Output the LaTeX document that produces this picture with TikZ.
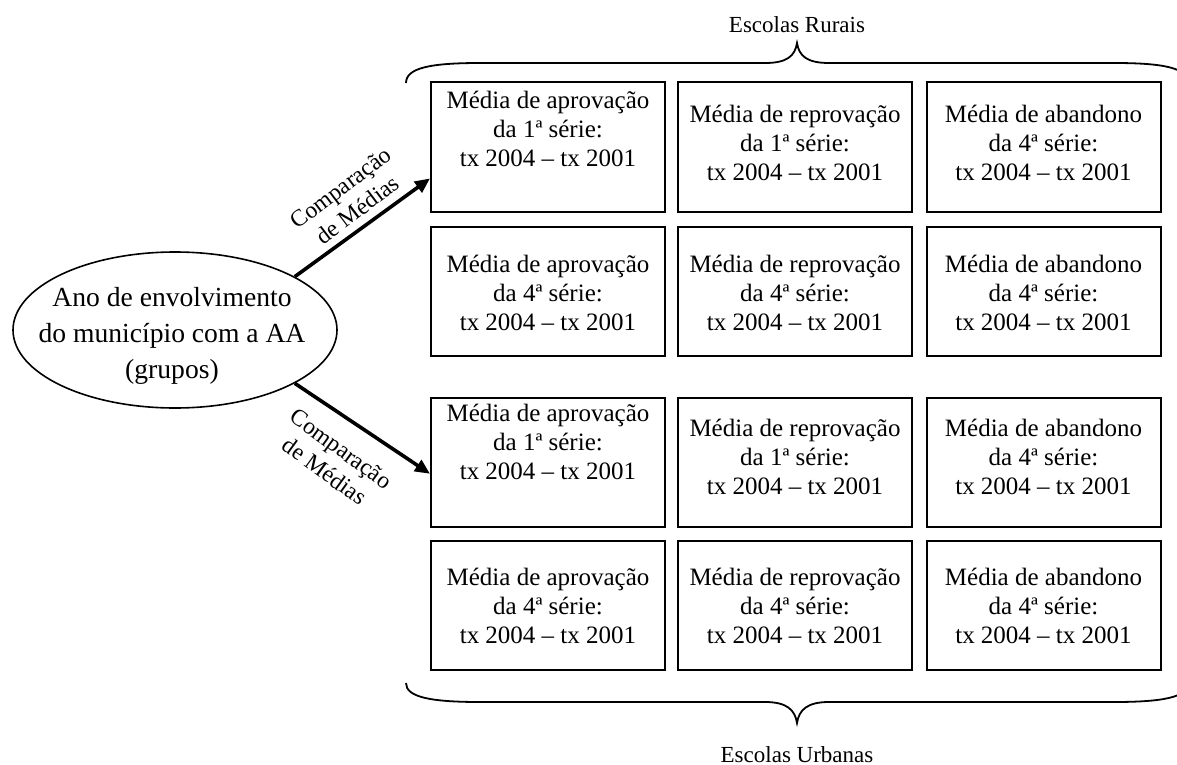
\documentclass[tikz,border=0pt]{standalone}
\usepackage{fontspec}
\setmainfont{Liberation Serif}
\usetikzlibrary{shapes.geometric,arrows.meta,calc}
\begin{document}
\begin{tikzpicture}[x=0.5pt,y=-0.5pt,
  cell/.style={draw,line width=1pt,minimum width=117pt,minimum height=64.5pt,inner sep=0pt},
  celltxt/.style={align=center,inner sep=0pt,font=\fontsize{12.5}{14.5}\selectfont},
  grp/.style={draw,ellipse,line width=0.8pt,minimum width=162pt,minimum height=78pt,inner sep=0pt},
  grptxt/.style={align=center,inner sep=0pt,font=\fontsize{13.8}{18}\selectfont},
  arr/.style={line width=1.8pt,-{Triangle[length=7.5pt,width=6.5pt]}},
  arrlbl/.style={align=center,inner sep=0pt,font=\fontsize{11.8}{14}\selectfont},
  brace/.style={line width=0.9pt},
  side/.style={inner sep=0pt,anchor=base,font=\fontsize{11.5}{13}\selectfont}]
\useasboundingbox (0,0) rectangle (1177,765);
\clip (0,0) rectangle (1177,765);

% grouping ellipse
\node[grp] (ell) at (175,330) {};
\node[grptxt] (elltxt) at (172,336) {Ano de envolvimento\\do município com a AA\\(grupos)};

% grid of boxes: columns at 548 / 795 / 1043.5, rows at 147 / 291.5 / 462 / 605
\foreach \c/\x in {1/548,2/795,3/1043.5}
  \foreach \r/\y in {1/147,2/291.5,3/462,4/605}
    \node[cell] (b\r\c) at (\x,\y) {};

% texts, rural block
\node[celltxt] (t11) at (548,129) {Média de aprovação\\da 1ª série:\\tx 2004 – tx 2001};
\node[celltxt] (t12) at (795,143) {Média de reprovação\\da 1ª série:\\tx 2004 – tx 2001};
\node[celltxt] (t13) at (1043.5,143) {Média de abandono\\da 4ª série:\\tx 2004 – tx 2001};
\node[celltxt] (t21) at (548,292.5) {Média de aprovação\\da 4ª série:\\tx 2004 – tx 2001};
\node[celltxt] (t22) at (795,292.5) {Média de reprovação\\da 4ª série:\\tx 2004 – tx 2001};
\node[celltxt] (t23) at (1043.5,292.5) {Média de abandono\\da 4ª série:\\tx 2004 – tx 2001};
% texts, urban block
\node[celltxt] (t31) at (548,442) {Média de aprovação\\da 1ª série:\\tx 2004 – tx 2001};
\node[celltxt] (t32) at (795,457) {Média de reprovação\\da 1ª série:\\tx 2004 – tx 2001};
\node[celltxt] (t33) at (1043.5,457) {Média de abandono\\da 4ª série:\\tx 2004 – tx 2001};
\node[celltxt] (t41) at (548,606) {Média de aprovação\\da 4ª série:\\tx 2004 – tx 2001};
\node[celltxt] (t42) at (795,606) {Média de reprovação\\da 4ª série:\\tx 2004 – tx 2001};
\node[celltxt] (t43) at (1043.5,606) {Média de abandono\\da 4ª série:\\tx 2004 – tx 2001};

% connectors
\draw[arr] (ell.24) -- ($(b11.south west)!0.26!(b11.north west)$);
\draw[arr] (ell.-24) -- ($(b31.south west)!0.41!(b31.north west)$);
\node[arrlbl,rotate=37] (lbl1) at (349,199) {Comparação\\de Médias};
\node[arrlbl,rotate=-36] (lbl2) at (333,460) {Comparação\\de Médias};

% braces
\draw[brace] (406,83) .. controls (406,68) and (430,63) .. (480,63) -- (765,63)
  .. controls (787,63) and (795,56) .. (797,43)
  .. controls (799,56) and (807,63) .. (829,63) -- (1114,63)
  .. controls (1164,63) and (1188,68) .. (1188,83);
\draw[brace] (406,683) .. controls (406,697) and (430,702) .. (480,702) -- (765,702)
  .. controls (787,702) and (795,710) .. (797,723)
  .. controls (799,710) and (807,702) .. (829,702) -- (1114,702)
  .. controls (1164,702) and (1188,697) .. (1188,683);

\node[side] (rural) at (797,33) {Escolas Rurais};
\node[side] (urban) at (797,762) {Escolas Urbanas};
\end{tikzpicture}
\end{document}
